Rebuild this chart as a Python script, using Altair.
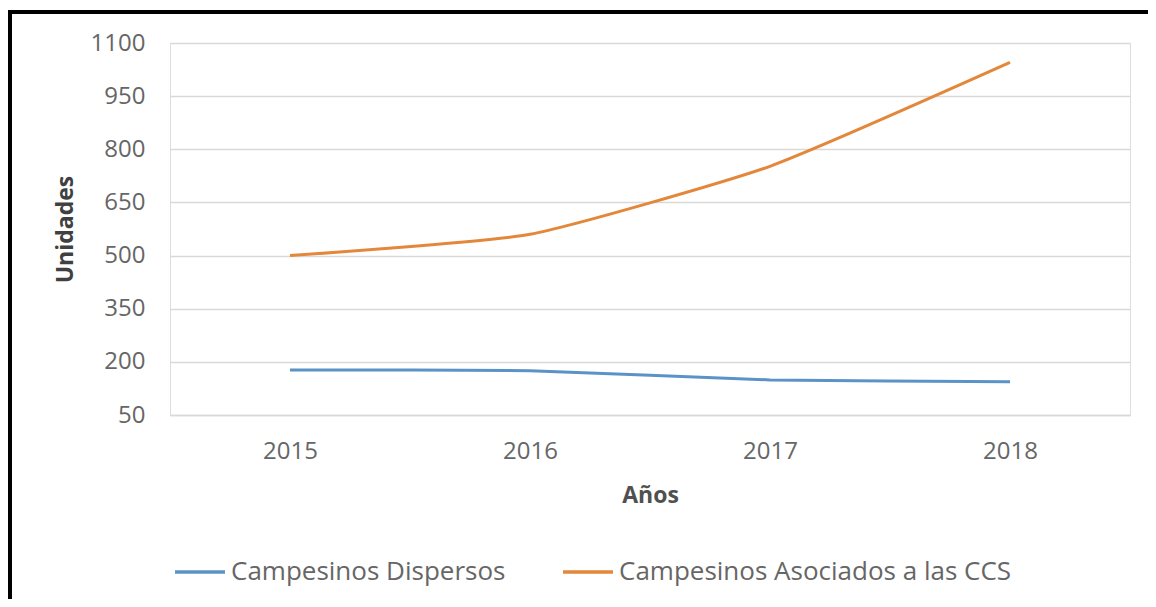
import altair as alt
import pandas as pd

years = ["2015", "2016", "2017", "2018"]
dispersos = [177, 175, 149, 144]
asociados = [500, 560, 752, 1045]
series_names = ["Campesinos Dispersos", "Campesinos Asociados a las CCS"]
y_ticks = [50, 200, 350, 500, 650, 800, 950, 1100]

rows = []
for y, v in zip(years, dispersos):
    rows.append({"year": y, "value": v, "serie": series_names[0]})
for y, v in zip(years, asociados):
    rows.append({"year": y, "value": v, "serie": series_names[1]})
df = pd.DataFrame(rows)

FONT = "Open Sans"
GREY = "#666666"

lines = alt.Chart(df).mark_line(strokeWidth=3, interpolate="cardinal", tension=0.5).encode(
    x=alt.X("year:O", scale=alt.Scale(type="point", padding=0.5),
            axis=alt.Axis(title="Años", labelAngle=0, labelFontSize=24, labelColor=GREY,
                          labelFont=FONT, labelPadding=24, ticks=False,
                          domainColor="#d9d9d9", domainWidth=1.5,
                          titleFont=FONT, titleFontSize=23, titleFontWeight="bold",
                          titleColor="#505050", titlePadding=21)),
    y=alt.Y("value:Q", scale=alt.Scale(domain=[50, 1100], nice=False, zero=False),
            axis=alt.Axis(title="Unidades", values=y_ticks, format="d", labelFontSize=24,
                          labelColor=GREY, labelFont=FONT, labelPadding=25, ticks=False,
                          domain=False, gridColor="#d9d9d9", gridWidth=1.5,
                          titleFont=FONT, titleFontSize=23, titleFontWeight="bold",
                          titleColor="#404040", titlePadding=13)),
    color=alt.Color("serie:N", scale=alt.Scale(domain=series_names, range=["#5b93c7", "#e3873a"]),
                    legend=alt.Legend(title=None, orient="none", direction="horizontal",
                                      legendX=3, legendY=502,
                                      symbolType="stroke", symbolSize=2500, symbolStrokeWidth=3.5,
                                      labelFont=FONT, labelFontSize=26, labelColor=GREY,
                                      labelOffset=4, columnPadding=50, labelLimit=500)),
)

dummy = alt.Data(values=[{}])
top_border = alt.Chart(dummy).mark_rule(color="black", strokeWidth=4).encode(
    x=alt.value(-162), x2=alt.value(990), y=alt.value(-31))
left_border = alt.Chart(dummy).mark_rule(color="black", strokeWidth=4).encode(
    x=alt.value(-160), y=alt.value(-33), y2=alt.value(570))

chart = alt.layer(lines, top_border, left_border).properties(
    width=960, height=372,
    autosize=alt.AutoSizeParams(type="none"),
    padding={"left": 162, "top": 35, "right": 18, "bottom": 184},
).configure_view(stroke=None).configure(background="white")

chart.save("out.html", embed_options={"renderer": "svg", "actions": False})
